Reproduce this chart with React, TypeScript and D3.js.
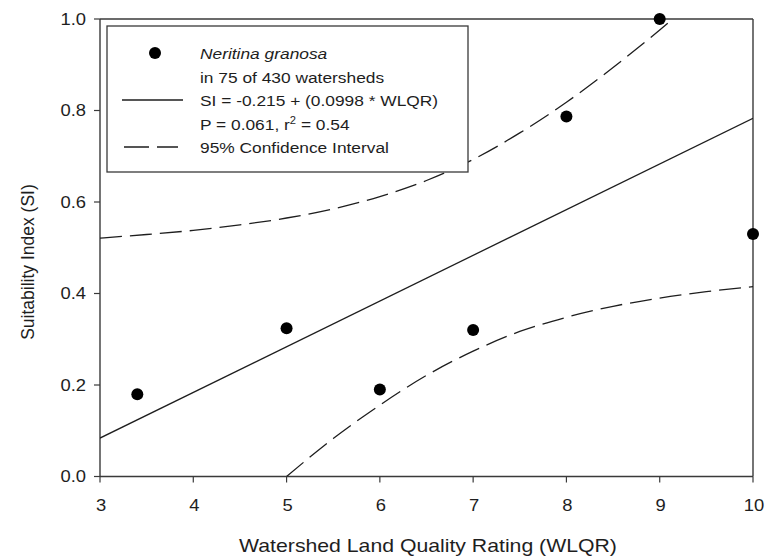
import React from "react";
import * as d3 from "d3";

const obsX = [3.4, 5, 6, 7, 8, 9, 10];
const obsY = [0.18, 0.324, 0.19, 0.32, 0.787, 1.0, 0.53];

const fitX = [3, 10];
const fitY = [0.084, 0.783];

const upperX = [3, 3.5, 4, 4.5, 5, 5.5, 6, 6.5, 7, 7.5, 8, 8.5, 9, 9.2];
const upperY = [0.521, 0.529, 0.538, 0.55, 0.565, 0.585, 0.612, 0.647, 0.693, 0.751, 0.818, 0.894, 0.976, 1.01];

const lowerX = [5, 5.5, 6, 6.5, 7, 7.5, 8, 8.5, 9, 9.5, 10];
const lowerY = [0.0, 0.083, 0.156, 0.221, 0.274, 0.317, 0.348, 0.372, 0.39, 0.404, 0.415];

const xTicks = [3, 4, 5, 6, 7, 8, 9, 10];
const yTicks = [0, 0.2, 0.4, 0.6, 0.8, 1.0];

const xTitle = "Watershed Land Quality Rating (WLQR)";
const yTitle = "Suitability Index (SI)";
const legendSpecies = "Neritina granosa";
const legendCount = "in 75 of 430 watersheds";
const legendEq = "SI = -0.215 + (0.0998 * WLQR)";
const legendStatA = "P = 0.061, r";
const legendStatB = "= 0.54";
const legendCI = "95% Confidence Interval";

const FONT = "'Liberation Sans', Arial, Helvetica, sans-serif";
const INK = "#1e1e1e";
const AXIS = "#3a3a3a";

export default function App() {
  const x = d3.scaleLinear().domain([3, 10]).range([100, 753]);
  const y = d3.scaleLinear().domain([0, 1]).range([476.5, 19]);

  const line = d3
    .line<[number, number]>()
    .x((d) => x(d[0]))
    .y((d) => y(d[1]));
  const curve = d3
    .line<[number, number]>()
    .x((d) => x(d[0]))
    .y((d) => y(d[1]))
    .curve(d3.curveMonotoneX);

  const fitPath = line(fitX.map((v, i) => [v, fitY[i]]) as [number, number][]);
  const upPath = curve(upperX.map((v, i) => [v, upperY[i]]) as [number, number][]);
  const loPath = curve(lowerX.map((v, i) => [v, lowerY[i]]) as [number, number][]);

  const [x0, x1] = x.range();
  const [y0, y1] = y.range();
  const fmt = d3.format(".1f");

  const legendBaselines = [59, 83, 106, 130, 153];
  const lx = 200;
  const legendScale = "scale(1.12,1)";

  return (
    <svg
      width={768}
      height={560}
      style={{ position: "absolute", left: 0, top: 0, display: "block", background: "#fff" }}
      fontFamily={FONT}
    >
      <defs>
        <clipPath id="plotClip">
          <rect x={x0} y={y1} width={x1 - x0} height={y0 - y1} />
        </clipPath>
      </defs>
      <rect x={0} y={0} width={768} height={560} fill="#fff" />

      {/* frame */}
      <line x1={x0} y1={y1} x2={x1} y2={y1} stroke={AXIS} strokeWidth={1.4} />
      <line x1={x1} y1={y1} x2={x1} y2={y0} stroke={AXIS} strokeWidth={1.4} />

      {/* y axis */}
      <line x1={x0} y1={y1} x2={x0} y2={y0} stroke={AXIS} strokeWidth={1.4} />
      {yTicks.map((t) => (
        <g key={"yt" + t}>
          <line x1={x0 - 6} x2={x0} y1={y(t)} y2={y(t)} stroke={AXIS} strokeWidth={1.2} />
          <text
            transform={`translate(${86},${y(t) + 5.5}) scale(1.15,1)`}
            textAnchor="end"
            fontSize={16}
            fill={INK}
          >
            {fmt(t)}
          </text>
        </g>
      ))}

      {/* x axis */}
      <line x1={x0} y1={y0} x2={x1} y2={y0} stroke={AXIS} strokeWidth={1.4} />
      {xTicks.map((t) => (
        <g key={"xt" + t}>
          <line x1={x(t)} x2={x(t)} y1={y0} y2={y0 + 6} stroke={AXIS} strokeWidth={1.2} />
          <text
            transform={`translate(${x(t) + 1},${511}) scale(1.15,1)`}
            textAnchor="middle"
            fontSize={16}
            fill={INK}
          >
            {t}
          </text>
        </g>
      ))}

      {/* titles */}
      <text
        transform={`translate(${428},${552}) scale(1.18,1)`}
        textAnchor="middle"
        fontSize={18}
        fill={INK}
      >
        {xTitle}
      </text>
      <text
        transform={`translate(${34},${262}) rotate(-90)`}
        textAnchor="middle"
        fontSize={17.5}
        fill={INK}
      >
        {yTitle}
      </text>

      {/* data lines */}
      <g clipPath="url(#plotClip)">
        <path d={fitPath || ""} fill="none" stroke={INK} strokeWidth={1.3} />
        <path d={upPath || ""} fill="none" stroke={INK} strokeWidth={1.3} strokeDasharray="22,8" />
        <path d={loPath || ""} fill="none" stroke={INK} strokeWidth={1.3} strokeDasharray="22,8" />
      </g>

      {/* legend */}
      <rect x={107} y={26} width={361} height={146} fill="#fff" stroke={AXIS} strokeWidth={1.3} />
      <circle cx={155} cy={53} r={6} fill="#000" />
      <text transform={`translate(${lx},${legendBaselines[0]}) ${legendScale}`} fontSize={15.5} fontStyle="italic" fill={INK}>
        {legendSpecies}
      </text>
      <text transform={`translate(${lx},${legendBaselines[1]}) ${legendScale}`} fontSize={15.5} fill={INK}>
        {legendCount}
      </text>
      <line x1={122} x2={183} y1={100} y2={100} stroke={INK} strokeWidth={1.3} />
      <text transform={`translate(${lx},${legendBaselines[2]}) ${legendScale}`} fontSize={15.5} fill={INK}>
        {legendEq}
      </text>
      <text transform={`translate(${lx},${legendBaselines[3]}) ${legendScale}`} fontSize={15.5} fill={INK}>
        {legendStatA}
        <tspan fontSize={10} dy={-6}>2</tspan>
        <tspan dy={6}> {legendStatB}</tspan>
      </text>
      <line x1={124} x2={178} y1={147} y2={147} stroke={INK} strokeWidth={1.3} strokeDasharray="25,8" />
      <text transform={`translate(${lx},${legendBaselines[4]}) ${legendScale}`} fontSize={15.5} fill={INK}>
        {legendCI}
      </text>

      {/* observations */}
      {obsX.map((v, i) => (
        <circle key={"p" + i} cx={x(v)} cy={y(obsY[i])} r={6} fill="#000" />
      ))}
    </svg>
  );
}
